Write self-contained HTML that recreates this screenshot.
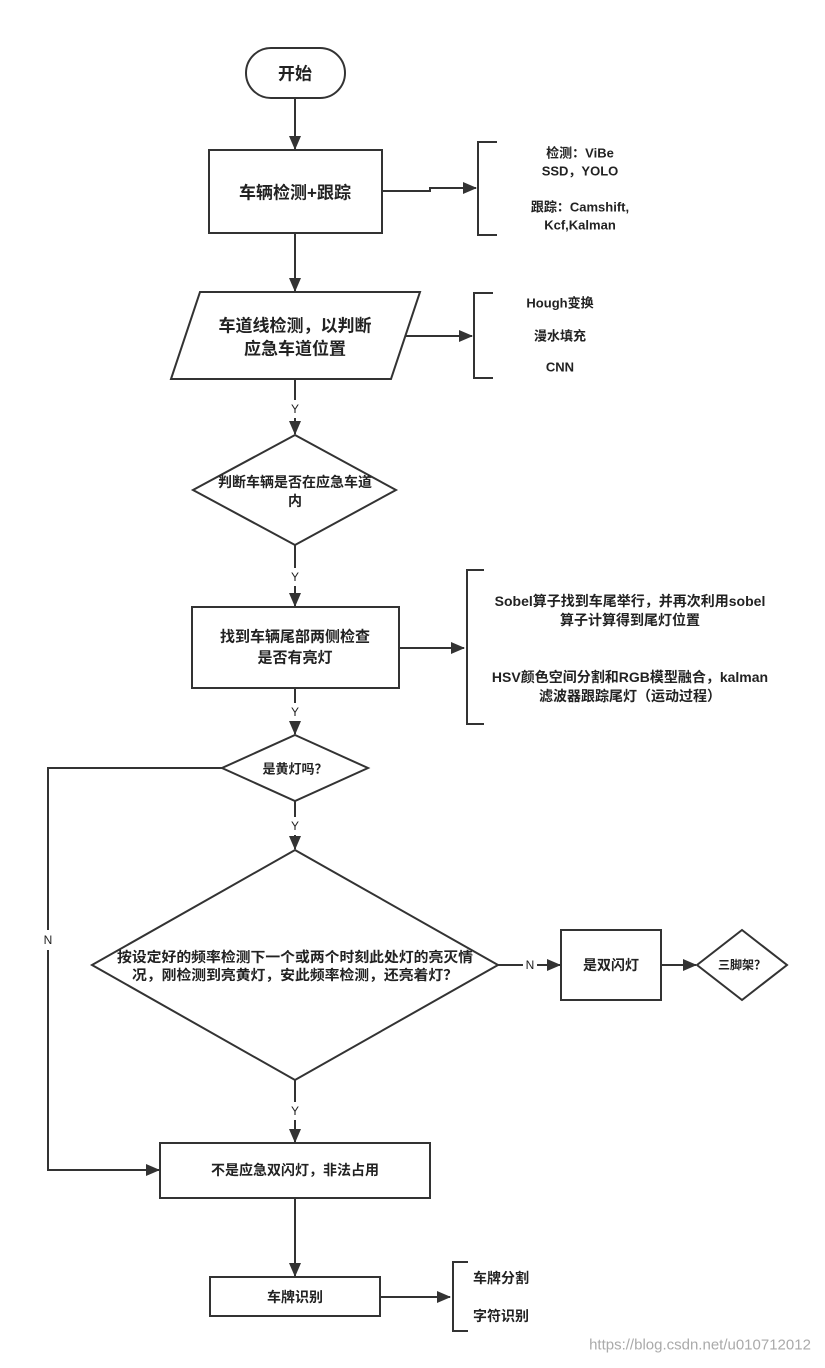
<!DOCTYPE html>
<html><head><meta charset="utf-8"><style>
html,body{margin:0;padding:0;background:#fff}
svg text{font-family:"Liberation Sans","Noto Sans CJK SC",sans-serif;fill:#222;text-anchor:middle;dominant-baseline:central}
.b{font-weight:bold}
</style></head><body>
<svg width="825" height="1363" viewBox="0 0 825 1363" xmlns="http://www.w3.org/2000/svg">
<defs><marker id="a" markerWidth="14" markerHeight="12" refX="13" refY="6" orient="auto" markerUnits="userSpaceOnUse"><path d="M0,0 L14,6 L0,12 z" fill="#333"/></marker></defs>
<g fill="none" stroke="#333" stroke-width="2">
<rect x="246" y="48" width="99" height="50" rx="25"/>
<line x1="295" y1="98" x2="295" y2="149" marker-end="url(#a)"/>
<rect x="209" y="150" width="173" height="83"/>
<polyline points="382,191 430,191 430,188 476,188" marker-end="url(#a)"/>
<polyline points="497,142 478,142 478,235 497,235"/>
<line x1="295" y1="233" x2="295" y2="291" marker-end="url(#a)"/>
<polygon points="200,292 420,292 391,379 171,379"/>
<line x1="405" y1="336" x2="472" y2="336" marker-end="url(#a)"/>
<polyline points="493,293 474,293 474,378 493,378"/>
<line x1="295" y1="379" x2="295" y2="400"/><line x1="295" y1="418" x2="295" y2="434" marker-end="url(#a)"/>
<polygon points="295,435 396,490 295,545 193,490"/>
<line x1="295" y1="545" x2="295" y2="568"/><line x1="295" y1="586" x2="295" y2="606" marker-end="url(#a)"/>
<rect x="192" y="607" width="207" height="81"/>
<line x1="399" y1="648" x2="464" y2="648" marker-end="url(#a)"/>
<polyline points="484,570 467,570 467,724 484,724"/>
<line x1="295" y1="688" x2="295" y2="703"/><line x1="295" y1="721" x2="295" y2="734" marker-end="url(#a)"/>
<polygon points="295,735 368,768 295,801 222,768"/>
<polyline points="222,768 48,768 48,930"/><polyline points="48,950 48,1170 159,1170" marker-end="url(#a)"/>
<line x1="295" y1="801" x2="295" y2="817"/><line x1="295" y1="835" x2="295" y2="849" marker-end="url(#a)"/>
<polygon points="295,850 498,965 295,1080 92,965"/>
<line x1="498" y1="965" x2="523" y2="965"/><line x1="537" y1="965" x2="560" y2="965" marker-end="url(#a)"/>
<rect x="561" y="930" width="100" height="70"/>
<line x1="661" y1="965" x2="696" y2="965" marker-end="url(#a)"/>
<polygon points="742,930 787,965 742,1000 697,965"/>
<line x1="295" y1="1080" x2="295" y2="1102"/><line x1="295" y1="1120" x2="295" y2="1142" marker-end="url(#a)"/>
<rect x="160" y="1143" width="270" height="55"/>
<line x1="295" y1="1198" x2="295" y2="1276" marker-end="url(#a)"/>
<rect x="210" y="1277" width="170" height="39"/>
<line x1="380" y1="1297" x2="450" y2="1297" marker-end="url(#a)"/>
<polyline points="468,1262 453,1262 453,1331 468,1331"/>
</g>
<text class="b" x="295" y="74" font-size="17">开始</text>
<text class="b" x="295" y="193" font-size="17">车辆检测+跟踪</text>
<g class="b" font-size="13">
<text x="580" y="153">检测：ViBe</text><text x="580" y="171">SSD，YOLO</text>
<text x="580" y="207">跟踪：Camshift,</text><text x="580" y="225">Kcf,Kalman</text>
<text x="560" y="303">Hough变换</text><text x="560" y="336">漫水填充</text><text x="560" y="367">CNN</text>
</g>
<text class="b" x="295" y="326" font-size="17">车道线检测，以判断</text>
<text class="b" x="295" y="349" font-size="17">应急车道位置</text>
<g font-size="12"><text x="295" y="409">Y</text><text x="295" y="577">Y</text><text x="295" y="712">Y</text><text x="295" y="826">Y</text><text x="295" y="1111">Y</text><text x="48" y="940">N</text><text x="530" y="965">N</text></g>
<text class="b" x="295" y="482" font-size="14">判断车辆是否在应急车道</text>
<text class="b" x="295" y="501" font-size="14">内</text>
<text class="b" x="295" y="637" font-size="15">找到车辆尾部两侧检查</text>
<text class="b" x="295" y="658" font-size="15">是否有亮灯</text>
<g class="b" font-size="14">
<text x="630" y="601">Sobel算子找到车尾举行，并再次利用sobel</text>
<text x="630" y="620">算子计算得到尾灯位置</text>
<text x="630" y="677">HSV颜色空间分割和RGB模型融合，kalman</text>
<text x="630" y="696">滤波器跟踪尾灯（运动过程）</text>
</g>
<text class="b" x="295" y="769" font-size="13">是黄灯吗？</text>
<text class="b" x="295" y="957" font-size="14" textLength="356" lengthAdjust="spacingAndGlyphs">按设定好的频率检测下一个或两个时刻此处灯的亮灭情</text>
<text class="b" x="295" y="975" font-size="14" textLength="326" lengthAdjust="spacingAndGlyphs">况，刚检测到亮黄灯，安此频率检测，还亮着灯？</text>
<text class="b" x="611" y="965" font-size="14">是双闪灯</text>
<text class="b" x="742" y="965" font-size="12">三脚架？</text>
<text class="b" x="295" y="1170" font-size="14">不是应急双闪灯，非法占用</text>
<text class="b" x="295" y="1297" font-size="14">车牌识别</text>
<text class="b" x="501" y="1278" font-size="14">车牌分割</text>
<text class="b" x="501" y="1316" font-size="14">字符识别</text>
<text x="700" y="1345" font-size="15" style="fill:#aaa">https://blog.csdn.net/u010712012</text>
</svg>
</body></html>
